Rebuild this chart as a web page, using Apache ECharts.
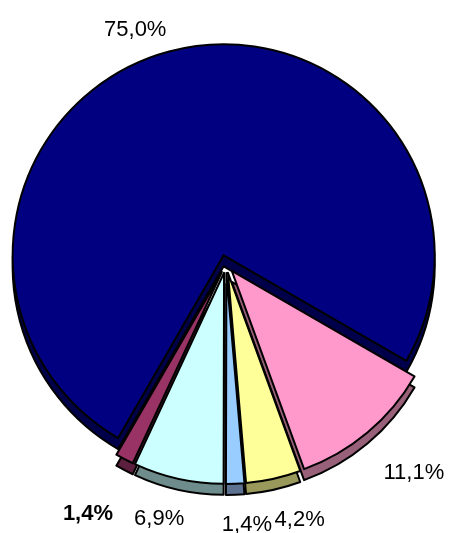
<!DOCTYPE html>
<html>
<head>
<meta charset="utf-8">
<script src="https://cdn.jsdelivr.net/npm/echarts@6/dist/echarts.min.js"></script>
<style>
html,body{margin:0;padding:0;background:#fff;}
#chart{width:449px;height:533px;}
</style>
</head>
<body>
<div id="chart"></div>
<script>
const categories = ['Slice 1', 'Slice 2', 'Slice 3', 'Slice 4', 'Slice 5', 'Slice 6'];
const values = [75.0, 11.1, 4.2, 1.4, 6.9, 1.4];
const topColors = ['#000080', '#FF99CC', '#FFFF99', '#99CCFF', '#CCFFFF', '#993366'];
const sideColors = ['#00004A', '#99607A', '#99995C', '#5C7290', '#6E8C8C', '#5C1F3D'];
const boldLabel = [false, false, false, false, false, true];
// label nudges (styling only)
const labelNudge = [[6, -8], [2, 30], [-7, 27], [-19, 27], [14, 27], [0, 42]];

const fmt = p => p.value.toFixed(1).replace('.', ',') + '%';

const common = {
  type: 'pie',
  radius: 211,
  startAngle: 240,
  clockwise: true,
  selectedMode: 'multiple',
  selectedOffset: 9,
  avoidLabelOverlap: false,
  animation: false,
  emphasis: { disabled: true }
};

const chart = echarts.init(document.getElementById('chart'), null, { renderer: 'canvas' });
chart.setOption({
  backgroundColor: '#fff',
  series: [
    Object.assign({}, common, {
      name: 'side',
      center: [226, 275],
      silent: true,
      z: 1,
      label: { show: false },
      labelLine: { show: false },
      data: categories.map((c, i) => ({
        name: c, value: values[i], selected: true,
        itemStyle: { color: sideColors[i], borderColor: '#000', borderWidth: 2 },
        select: { itemStyle: { color: sideColors[i], borderColor: '#000', borderWidth: 2 } }
      }))
    }),
    Object.assign({}, common, {
      name: 'top',
      center: [226, 264],
      z: 2,
      label: {
        show: true,
        position: 'outside',
        formatter: fmt,
        color: '#000',
        fontFamily: 'Liberation Sans, Arial, sans-serif',
        fontSize: 22
      },
      labelLine: { show: false, length: 14, length2: 0 },
      labelLayout: function (params) {
        const n = labelNudge[params.dataIndex] || [0, 0];
        return { dx: n[0], dy: n[1], hideOverlap: false, moveOverlap: null };
      },
      data: categories.map((c, i) => ({
        name: c, value: values[i], selected: true,
        itemStyle: { color: topColors[i], borderColor: '#000', borderWidth: 2 },
        select: { itemStyle: { color: topColors[i], borderColor: '#000', borderWidth: 2 }, label: { fontWeight: boldLabel[i] ? 'bold' : 'normal' } },
        label: { fontWeight: boldLabel[i] ? 'bold' : 'normal' }
      }))
    })
  ]
});
</script>
</body>
</html>
